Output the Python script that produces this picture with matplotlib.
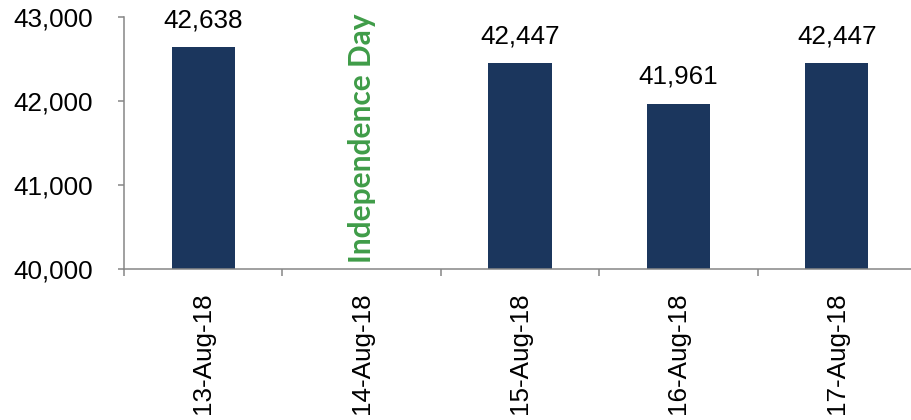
import matplotlib
matplotlib.use("Agg")
import matplotlib.pyplot as plt
import numpy as np

# =========================
# data
# =========================
dates = ["13-Aug-18", "14-Aug-18", "15-Aug-18", "16-Aug-18", "17-Aug-18"]
values = [42638, np.nan, 42447, 41961, 42447]
holiday_idx = 1
holiday_text = "Independence Day"
yticks = [40000, 41000, 42000, 43000]

bar_color = "#1b365d"
green = "#3f9c48"
axis_gray = "#868686"

plt.rcParams["font.family"] = ["Liberation Sans", "DejaVu Sans"]

fig = plt.figure(figsize=(9.11, 4.2), dpi=100)
ax = fig.add_axes([124 / 911, (420 - 269) / 420, (916 - 124) / 911, (269 - 17) / 420])

x = np.arange(len(dates))
vals = np.array(values, dtype=float)
mask = ~np.isnan(vals)
ax.bar(x[mask], vals[mask] - 40000, bottom=40000, width=0.40, color=bar_color, zorder=2)

for xi, v in zip(x[mask], vals[mask]):
    ax.annotate(f"{int(v):,}", (xi, v), xytext=(0, 11), textcoords="offset points",
                ha="center", va="bottom", fontsize=18.7, color="black")

ax.text(holiday_idx, 40070, holiday_text, rotation=90, ha="center", va="bottom",
        fontsize=21.5, fontweight="bold", color=green, family=["Lato", "DejaVu Sans"])

ax.set_xlim(-0.5, len(dates) - 0.5)
ax.set_ylim(40000, 43000)
ax.set_yticks(yticks)
ax.set_yticklabels([f"{t:,}" for t in yticks])

ax.set_xticks(x)
ax.set_xticklabels(dates, rotation=90, va="top", ha="center")
ax.set_xticks(np.arange(len(dates)) - 0.5, minor=True)
ax.tick_params(axis="x", which="major", length=0, pad=17, labelsize=18.7)
ax.tick_params(axis="x", which="minor", length=5, width=1.1, color=axis_gray, direction="out")
ax.tick_params(axis="y", length=4.5, width=1.1, color=axis_gray, pad=18, labelsize=18.7)

for s in ["top", "right"]:
    ax.spines[s].set_visible(False)
for s in ["left", "bottom"]:
    ax.spines[s].set_color(axis_gray)
    ax.spines[s].set_linewidth(1.1)

fig.savefig("out.png", dpi=100)
